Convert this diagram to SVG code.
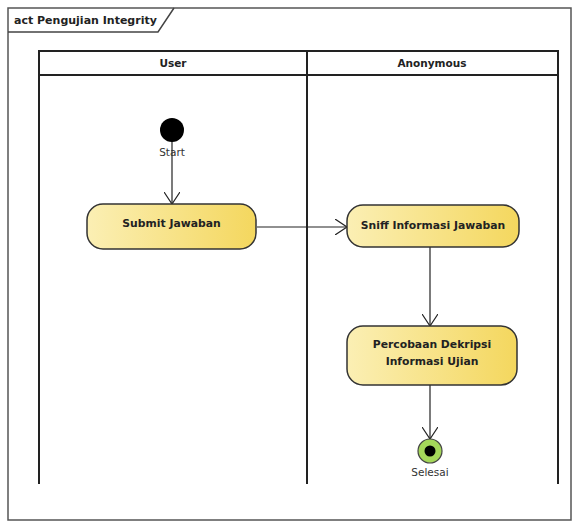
<svg xmlns="http://www.w3.org/2000/svg" width="579" height="523" viewBox="0 0 579 523">
  <defs>
    <linearGradient id="actFill" x1="0" y1="0" x2="1" y2="0">
      <stop offset="0" stop-color="#fbefb4"/>
      <stop offset="1" stop-color="#f4d75e"/>
    </linearGradient>
    <marker id="openArrow" viewBox="0 0 12 16" refX="12" refY="8" markerWidth="12" markerHeight="16" markerUnits="userSpaceOnUse" orient="auto">
      <path d="M0,0 L12,8 L0,16" fill="none" stroke="#222" stroke-width="1.2"/>
    </marker>
  </defs>
  <style>
    .frame { fill: #fff; stroke: #555; stroke-width: 1.5; }
    .lane { fill: none; stroke: #222; stroke-width: 2; }
    .hdr { font-family: "DejaVu Sans", "Liberation Sans", sans-serif; font-size: 10.5px; font-weight: bold; fill: #222; text-anchor: middle; }
    .act rect { fill: url(#actFill); stroke: #333; stroke-width: 1.5; }
    .act text { font-family: "DejaVu Sans", "Liberation Sans", sans-serif; font-size: 10.8px; font-weight: bold; fill: #222; text-anchor: middle; }
    .lbl { font-family: "DejaVu Sans", "Liberation Sans", sans-serif; font-size: 10.5px; fill: #333; text-anchor: middle; }
    .edge { fill: none; stroke: #222; stroke-width: 1.2; marker-end: url(#openArrow); }
  </style>

  <rect width="579" height="523" fill="#fff"/>

  <!-- diagram frame with name tab -->
  <g id="frame">
    <rect class="frame" x="8" y="8" width="563" height="512"/>
    <path d="M8,32 L158,32 L174,8" fill="none" stroke="#444" stroke-width="1.5"/>
    <text x="14" y="24" font-family="DejaVu Sans, Liberation Sans, sans-serif" font-size="11px" font-weight="bold" fill="#222">act Pengujian Integrity</text>
  </g>

  <!-- swimlanes -->
  <g id="lanes">
    <rect class="lane" x="39" y="51" width="519" height="24"/>
    <line class="lane" x1="39" y1="75" x2="39" y2="484"/>
    <line class="lane" x1="307" y1="51" x2="307" y2="484"/>
    <line class="lane" x1="558" y1="75" x2="558" y2="484"/>
    <text class="hdr" x="173" y="67">User</text>
    <text class="hdr" x="432" y="67">Anonymous</text>
  </g>

  <!-- connectors -->
  <g id="connectors">
    <line class="edge" x1="172" y1="140" x2="172" y2="204"/>
    <line class="edge" x1="257" y1="227" x2="347" y2="227"/>
    <line class="edge" x1="430" y1="247" x2="430" y2="326"/>
    <line class="edge" x1="430" y1="385" x2="430" y2="439"/>
  </g>

  <g id="start">
    <circle cx="172" cy="130" r="12" fill="#000"/>
    <text class="lbl" x="172" y="156">Start</text>
  </g>

  <g id="submit" class="act">
    <rect x="87" y="204" width="169" height="45" rx="16" ry="16"/>
    <text x="171.5" y="226.5">Submit Jawaban</text>
  </g>

  <g id="sniff" class="act">
    <rect x="347" y="205" width="172" height="42" rx="16" ry="16"/>
    <text x="433" y="228.5">Sniff Informasi Jawaban</text>
  </g>

  <g id="percobaan" class="act">
    <rect x="347" y="326" width="170" height="59" rx="16" ry="16"/>
    <text x="432" y="348">Percobaan Dekripsi</text>
    <text x="432" y="365">Informasi Ujian</text>
  </g>

  <g id="selesai">
    <circle cx="430" cy="451" r="12" fill="#a5d75a" stroke="#444" stroke-width="1.2"/>
    <circle cx="430" cy="451" r="5.5" fill="#000"/>
    <text class="lbl" x="430" y="476">Selesai</text>
  </g>
</svg>
